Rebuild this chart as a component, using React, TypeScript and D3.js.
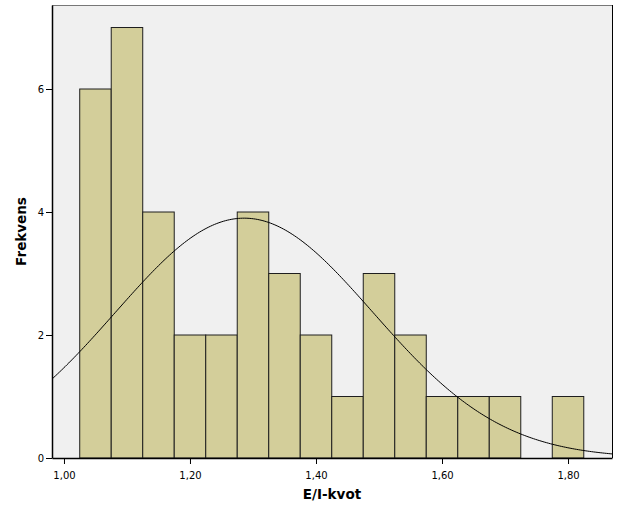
import { useEffect, useRef } from "react";
import * as d3 from "d3";

// histogram bins (start of bin, count)
const binStarts = [1.025, 1.075, 1.125, 1.175, 1.225, 1.275, 1.325, 1.375, 1.425, 1.475, 1.525, 1.575, 1.625, 1.675, 1.725, 1.775];
const counts = [6, 7, 4, 2, 2, 4, 3, 2, 1, 3, 2, 1, 1, 1, 0, 1];
const binWidth = 0.05;
const xTicks = [1.0, 1.2, 1.4, 1.6, 1.8];
const yTicks = [0, 2, 4, 6];
const mean = 1.286;
const sd = 0.2046;

export default function App() {
  const svgRef = useRef<SVGSVGElement | null>(null);

  useEffect(() => {
    if (!svgRef.current) return;
    const width = 626;
    const height = 521;
    const margin = { top: 5, right: 14, bottom: 63, left: 52 };

    const svg = d3.select(svgRef.current);
    svg.selectAll("*").remove();

    const x = d3
      .scaleLinear()
      .domain([0.981, 1.8698])
      .range([margin.left, width - margin.right]);
    const y = d3
      .scaleLinear()
      .domain([0, 7.366])
      .range([height - margin.bottom, margin.top]);

    const font = "DejaVu Sans, Verdana, sans-serif";
    const fmt = (v: number) => v.toFixed(2).replace(".", ",");

    // plot background
    svg
      .append("rect")
      .attr("x", margin.left)
      .attr("y", margin.top)
      .attr("width", width - margin.left - margin.right)
      .attr("height", height - margin.top - margin.bottom)
      .attr("fill", "#f0f0f0");

    // bars
    const n = d3.sum(counts);
    svg
      .append("g")
      .selectAll("rect")
      .data(binStarts.map((s, i) => ({ s, c: counts[i] })).filter((d) => d.c > 0))
      .join("rect")
      .attr("x", (d) => x(d.s))
      .attr("y", (d) => y(d.c))
      .attr("width", (d) => x(d.s + binWidth) - x(d.s))
      .attr("height", (d) => y(0) - y(d.c))
      .attr("fill", "#d3ce9a")
      .attr("stroke", "#1e1e1e")
      .attr("stroke-width", 1);

    // normal curve
    const pts = d3.range(0, 301).map((i) => {
      const xv = 0.981 + (i / 300) * (1.8698 - 0.981);
      const z = (xv - mean) / sd;
      const v = (n * binWidth * Math.exp(-0.5 * z * z)) / (sd * Math.sqrt(2 * Math.PI));
      return [xv, v] as [number, number];
    });
    svg
      .append("path")
      .datum(pts)
      .attr("fill", "none")
      .attr("stroke", "#000")
      .attr("stroke-width", 1)
      .attr(
        "d",
        d3
          .line<[number, number]>()
          .x((d) => x(d[0]))
          .y((d) => y(d[1]))
      );

    // frame
    svg
      .append("line")
      .attr("x1", margin.left)
      .attr("x2", width - margin.right)
      .attr("y1", margin.top + 0.5)
      .attr("y2", margin.top + 0.5)
      .attr("stroke", "#777");
    svg
      .append("line")
      .attr("x1", width - margin.right + 0.5)
      .attr("x2", width - margin.right + 0.5)
      .attr("y1", margin.top)
      .attr("y2", height - margin.bottom)
      .attr("stroke", "#000");

    // axes
    const xAxis = svg
      .append("g")
      .attr("transform", `translate(0,${height - margin.bottom})`)
      .call(d3.axisBottom(x).tickValues(xTicks).tickSize(6).tickSizeOuter(0).tickFormat((d) => fmt(+d)));
    xAxis.select(".domain").attr("stroke", "#000").attr("stroke-width", 1.5);
    xAxis.selectAll("text").attr("font-family", font).attr("font-size", 10).attr("fill", "#000").attr("dy", "1.2em");

    const yAxis = svg
      .append("g")
      .attr("transform", `translate(${margin.left},0)`)
      .call(d3.axisLeft(y).tickValues(yTicks).tickSize(6).tickSizeOuter(0).tickPadding(2));
    yAxis.select(".domain").attr("stroke", "#000").attr("stroke-width", 1.5);
    yAxis.selectAll("text").attr("font-family", font).attr("font-size", 10).attr("fill", "#000");

    // titles
    svg
      .append("text")
      .attr("x", 332)
      .attr("y", 499)
      .attr("text-anchor", "middle")
      .attr("font-family", font)
      .attr("font-size", 13.5)
      .attr("font-weight", "bold")
      .text("E/I-kvot");

    svg
      .append("text")
      .attr("transform", `translate(26,${(margin.top + height - margin.bottom) / 2}) rotate(-90)`)
      .attr("text-anchor", "middle")
      .attr("font-family", font)
      .attr("font-size", 13.5)
      .attr("font-weight", "bold")
      .text("Frekvens");
  }, []);

  return (
    <div style={{ position: "absolute", left: 0, top: 0 }}>
      <svg ref={svgRef} width={626} height={521} style={{ display: "block", background: "#fff" }} />
    </div>
  );
}
